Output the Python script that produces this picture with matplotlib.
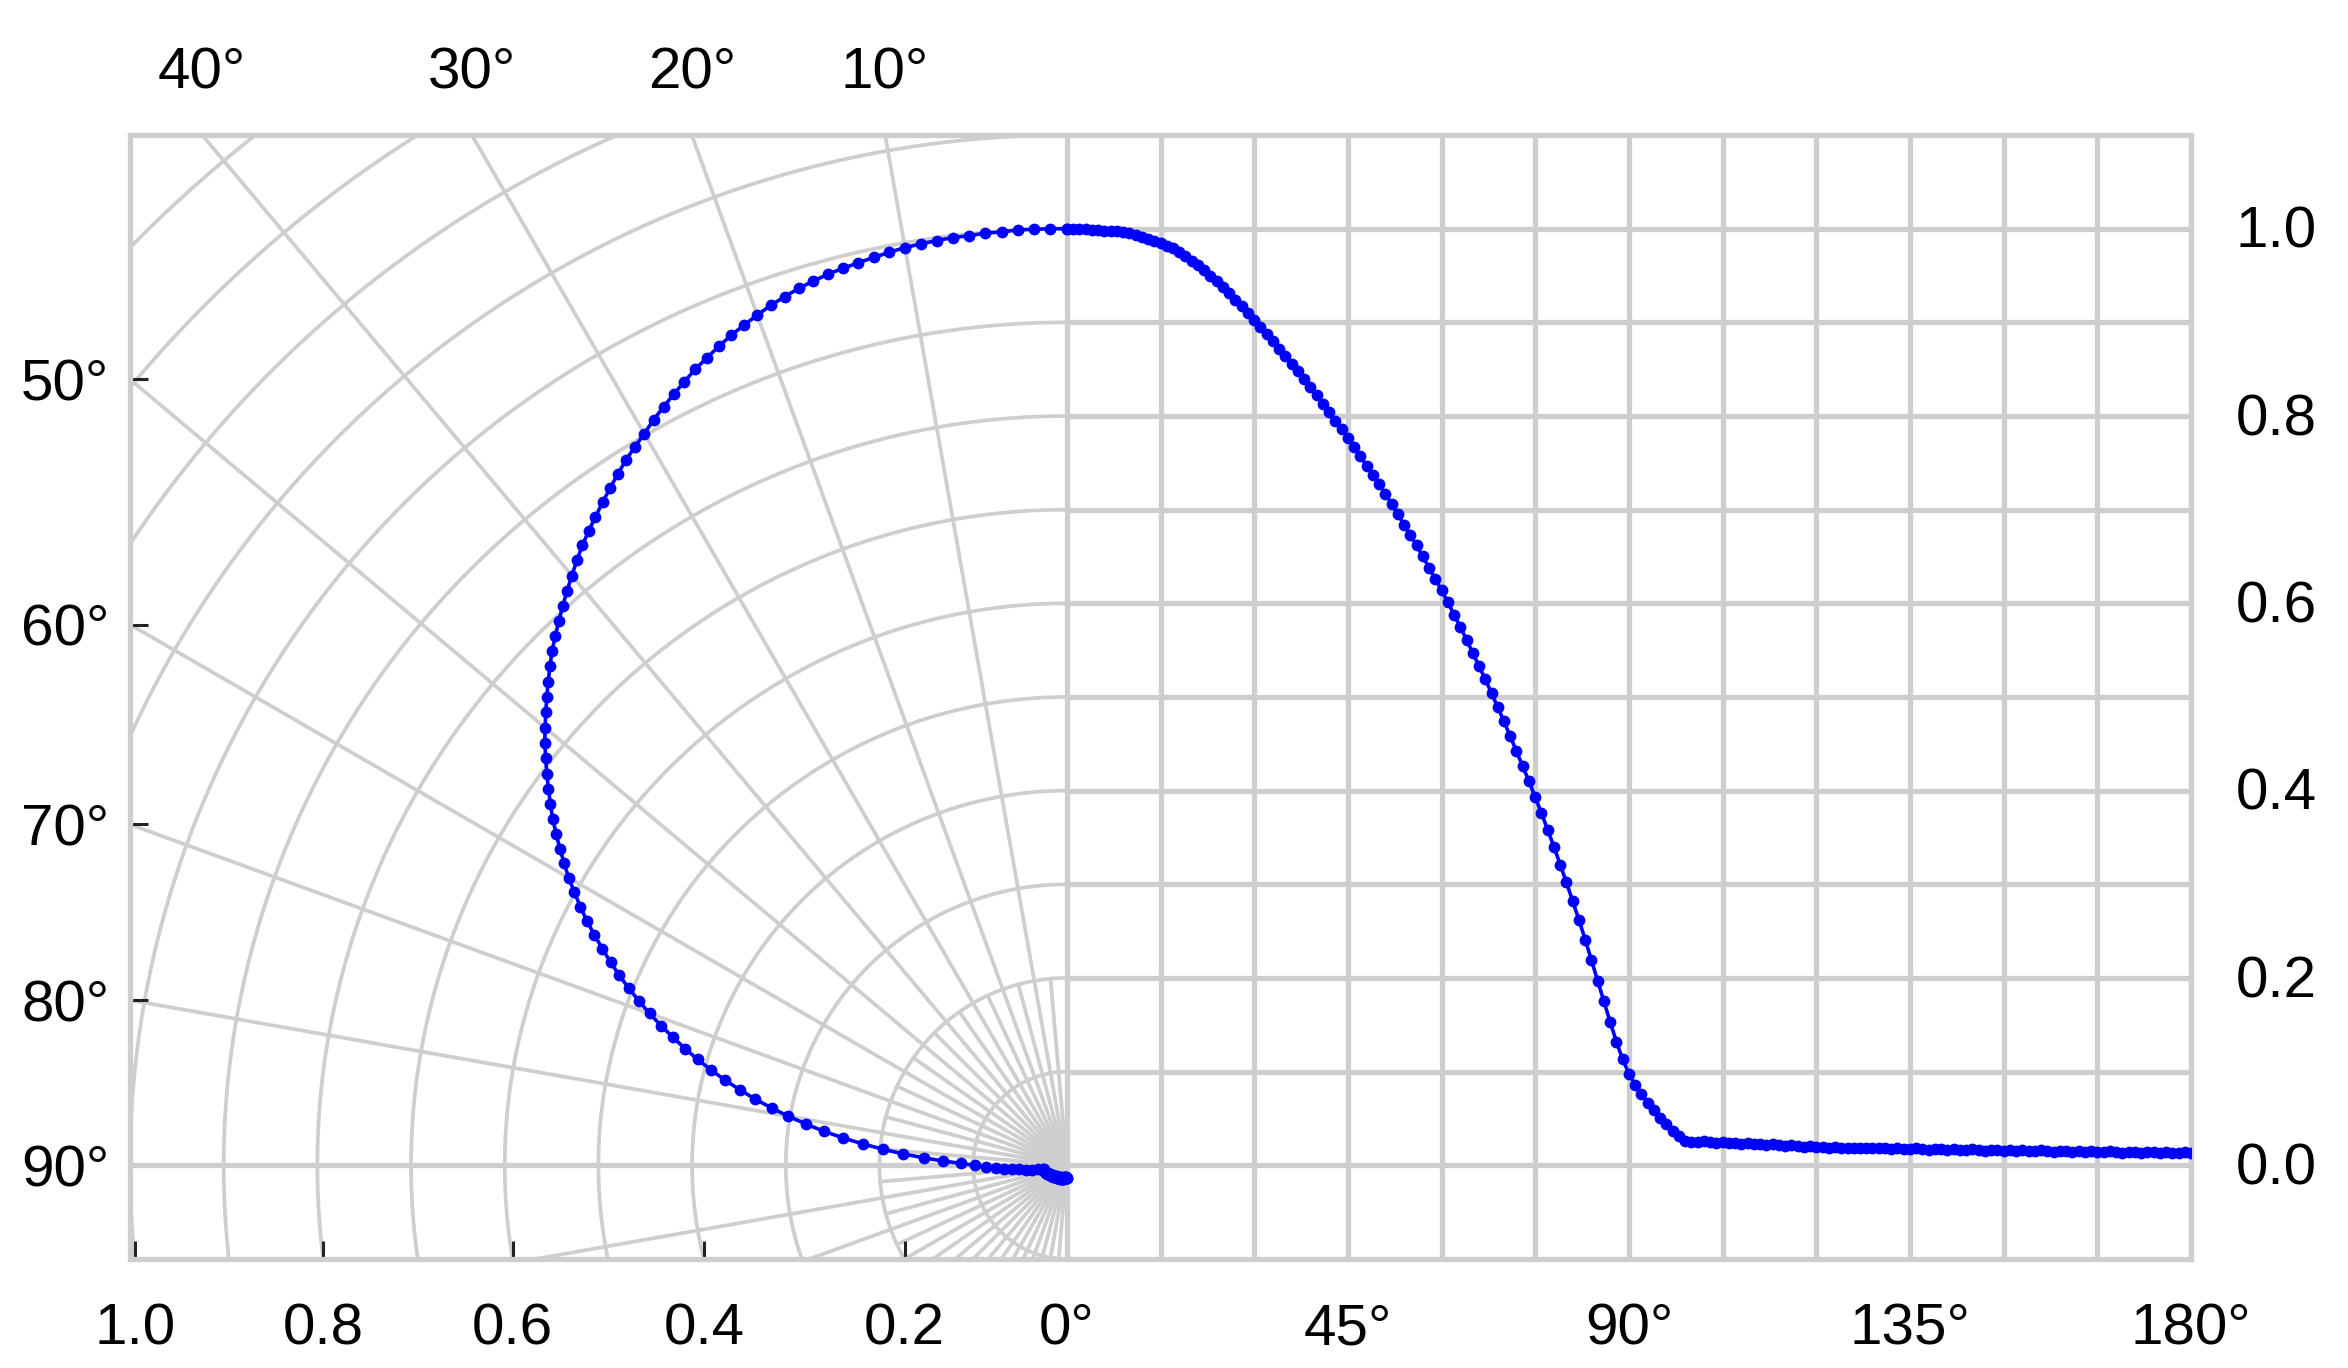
import numpy as np
import matplotlib
matplotlib.use("Agg")
import matplotlib.pyplot as plt

plt.rcParams['font.family'] = ['Liberation Sans', 'DejaVu Sans']

# ---------------- data ----------------
angle_deg = np.arange(0, 181, 1)          # measurement angles (deg)
intensity = [
    1.000, 1.000, 1.000, 1.000, 0.999, 0.999, 0.998, 0.998, 0.997, 0.996, 0.995,   # 0-10
    0.993, 0.991, 0.989, 0.987, 0.985, 0.982, 0.979, 0.975, 0.971, 0.966,          # 11-20
    0.961, 0.956, 0.950, 0.944, 0.938, 0.931, 0.924, 0.917, 0.910, 0.902,          # 21-30
    0.895, 0.888, 0.880, 0.872, 0.864, 0.856, 0.848, 0.840, 0.831, 0.822,          # 31-40
    0.813, 0.804, 0.795, 0.786, 0.777, 0.767, 0.757, 0.747, 0.737, 0.727,          # 41-50
    0.717, 0.706, 0.695, 0.684, 0.673, 0.662, 0.650, 0.638, 0.626, 0.614,          # 51-60
    0.601, 0.588, 0.575, 0.561, 0.547, 0.533, 0.519, 0.504, 0.489, 0.474,          # 61-70
    0.458, 0.442, 0.426, 0.410, 0.393, 0.376, 0.358, 0.340, 0.321, 0.302,          # 71-80
    0.282, 0.262, 0.241, 0.219, 0.197, 0.175, 0.153, 0.132, 0.113, 0.098,          # 81-90
    0.086, 0.076, 0.067, 0.059, 0.051, 0.044, 0.037, 0.031, 0.026, 0.025,          # 91-100
    0.025, 0.026, 0.025, 0.024, 0.025, 0.024, 0.024, 0.023, 0.024, 0.023,          # 101-110
    0.023, 0.022, 0.023, 0.022, 0.021, 0.022, 0.021, 0.020, 0.021, 0.020,          # 111-120
    0.020, 0.019, 0.020, 0.019, 0.019, 0.018, 0.019, 0.018, 0.018, 0.019,          # 121-130
    0.018, 0.017, 0.018, 0.017, 0.017, 0.018, 0.017, 0.016, 0.017, 0.017,          # 131-140
    0.016, 0.017, 0.016, 0.016, 0.017, 0.016, 0.015, 0.016, 0.016, 0.015,          # 141-150
    0.016, 0.015, 0.016, 0.015, 0.015, 0.016, 0.015, 0.014, 0.015, 0.015,          # 151-160
    0.014, 0.015, 0.014, 0.015, 0.014, 0.014, 0.015, 0.014, 0.013, 0.014,          # 161-170
    0.014, 0.013, 0.014, 0.014, 0.013, 0.014, 0.013, 0.013, 0.014, 0.013,          # 171-180
]
assert len(intensity) == len(angle_deg)

bottom_radius_labels = [1.0, 0.8, 0.6, 0.4, 0.2]
bottom_angle_labels = [0, 45, 90, 135, 180]
top_angle_labels = [40, 30, 20, 10]
left_angle_labels = [50, 60, 70, 80, 90]
right_value_labels = [1.0, 0.8, 0.6, 0.4, 0.2, 0.0]

# ---------------- layout ----------------
DEG_PER_UNIT = 150.0      # right (cartesian) half: 15 deg per 0.1 unit
XMIN, XMAX = -1.0, 1.2
YMIN, YMAX = -0.1, 1.1
GRID = '#cecece'
FS = 42

W, H = 2348, 1368
fig = plt.figure(figsize=(W / 100, H / 100), dpi=100)
left_px, right_px, top_px, bot_px = 130, 2191, 135, 1259
ax = fig.add_axes([left_px / W, 1 - bot_px / H, (right_px - left_px) / W, (bot_px - top_px) / H])
ax.set_xlim(XMIN, XMAX)
ax.set_ylim(YMIN, YMAX)

th = np.deg2rad(np.asarray(angle_deg, float))
I = np.asarray(intensity)

# ---------------- grid ----------------
glw_cart = 3.8
glw_pol = 2.7
Z_CART = 2.6   # above the tick marks
Z_POL = 1.0    # below the tick marks
for a in range(0, 181, 15):
    xv = a / DEG_PER_UNIT
    ax.plot([xv, xv], [YMIN, YMAX], color=GRID, lw=glw_cart, zorder=Z_CART)
for k in range(0, 11):
    r = k / 10
    ax.plot([0, XMAX], [r, r], color=GRID, lw=glw_cart, zorder=Z_CART)
t = np.linspace(0, np.pi, 721)
for k in range(1, 16):
    r = k / 10
    ax.plot(-r * np.sin(t), r * np.cos(t), color=GRID, lw=glw_pol, zorder=Z_POL)
for a in range(10, 180, 10):
    ar = np.deg2rad(a)
    if a == 90:
        ax.plot([0, -3 * np.sin(ar)], [0, 3 * np.cos(ar)], color=GRID, lw=glw_cart, zorder=Z_CART)
    else:
        ax.plot([0, -3 * np.sin(ar)], [0, 3 * np.cos(ar)], color=GRID, lw=glw_pol, zorder=Z_POL)
for a in range(5, 180, 10):
    ar = np.deg2rad(a)
    ax.plot([0, -0.2 * np.sin(ar)], [0, 0.2 * np.cos(ar)], color=GRID, lw=glw_pol, zorder=Z_POL)

# ---------------- data curves ----------------
style = dict(color='#0000ff', lw=2.6, marker='o', ms=8.5, mew=0, zorder=3)
ax.plot(-I * np.sin(th), I * np.cos(th), **style)                 # polar view
ax.plot(np.asarray(angle_deg) / DEG_PER_UNIT, I, **style)         # cartesian view

# ---------------- frame ----------------
for s in ax.spines.values():
    s.set_color('#cecece')
    s.set_linewidth(3.8)
    s.set_zorder(2.7)

# ---------------- ticks and labels ----------------
bx = [-np.sqrt(r ** 2 - YMIN ** 2) for r in bottom_radius_labels] + \
     [a / DEG_PER_UNIT for a in bottom_angle_labels]
blab = [f"{r:.1f}" for r in bottom_radius_labels] + [f"{a}\u00b0" for a in bottom_angle_labels]
ax.set_xticks(bx, blab)
ax.tick_params(axis='x', direction='in', length=13, width=2.2, color='#222222',
               pad=31, labelsize=FS, top=False)

ly = [-XMIN / np.tan(np.deg2rad(a)) for a in left_angle_labels]
ax.set_yticks(ly, [f"{a}\u00b0" for a in left_angle_labels])
ax.tick_params(axis='y', direction='in', length=13, width=2.2, color='#222222',
               pad=15, labelsize=FS, right=False)

for a in top_angle_labels:
    tx = -YMAX * np.tan(np.deg2rad(a))
    ax.annotate(f"{a}\u00b0", xy=(tx, YMAX), xytext=(0, 25), textcoords='offset points',
                ha='center', va='bottom', fontsize=FS, annotation_clip=False)
for v in right_value_labels:
    ax.annotate(f"{v:.1f}", xy=(XMAX, v), xytext=(32, -3), textcoords='offset points',
                ha='left', va='center', fontsize=FS, annotation_clip=False)

fig.savefig("out.png", dpi=100, facecolor='white')
